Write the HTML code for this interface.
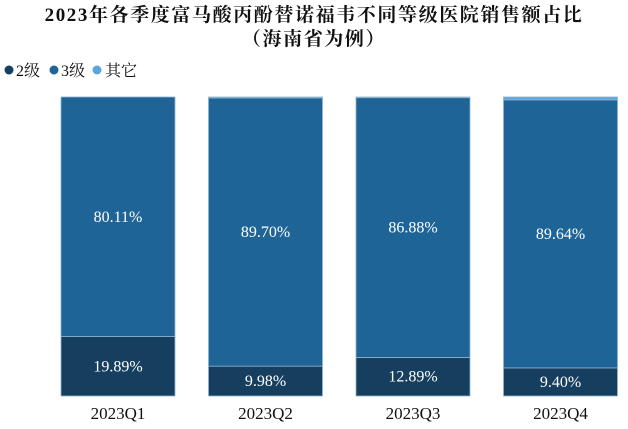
<!DOCTYPE html>
<html><head><meta charset="utf-8"><style>
body{margin:0;background:#fff;}
svg{display:block;font-family:"Liberation Serif","Noto Serif CJK SC",serif;}
</style></head><body>
<svg id="c" width="628" height="429">
<text x="314" y="21" text-anchor="middle" font-size="19" letter-spacing="1.6" font-weight="bold" fill="#111">2023年各季度富马酸丙酚替诺福韦不同等级医院销售额占比</text>
<text x="314" y="45" text-anchor="middle" font-size="19" letter-spacing="1.6" font-weight="bold" fill="#111">（海南省为例）</text>
<g>
<circle cx="9" cy="70" r="4.5" fill="#163f5f"/>
<text x="16" y="76" font-size="16" fill="#111">2级</text>
<circle cx="54" cy="70" r="4.5" fill="#1f6496"/>
<text x="61" y="76" font-size="16" fill="#111">3级</text>
<circle cx="97" cy="70" r="4.5" fill="#5aa6dc"/>
<text x="105" y="76" font-size="16" fill="#111">其它</text>
</g>
<g id="bars"></g>
</svg>
<script>
const categories=["2023Q1","2023Q2","2023Q3","2023Q4"];
const level2=[19.89,9.98,12.89,9.40];
const level3=[80.11,89.70,86.88,89.64];
const other=[0.00,0.32,0.23,0.96];
const yTop=97,yBot=396,x0=61,step=147.5,bw=114;
const y=v=>yBot-(v/100)*(yBot-yTop);
const g=document.getElementById('bars');
const NS="http://www.w3.org/2000/svg";
function rect(x,y1,y2,fill,name){
 const r=document.createElementNS(NS,'rect');
 r.setAttribute('x',x);r.setAttribute('y',y2);r.setAttribute('width',bw);r.setAttribute('height',Math.max(0,y1-y2));
 r.setAttribute('fill',fill);r.setAttribute('stroke','#8fb4d0');r.setAttribute('stroke-width','0.8');
 
 
 g.appendChild(r);
}
function txt(x,yy,s,fill,size,name){
 const t=document.createElementNS(NS,'text');
 t.setAttribute('x',x);t.setAttribute('y',yy);t.setAttribute('text-anchor','middle');
 t.setAttribute('font-size',size);t.setAttribute('fill',fill);t.textContent=s;
 
 
 g.appendChild(t);
}
categories.forEach((c,i)=>{
 const x=x0+i*step, cx=x+bw/2;
 const a=level2[i], b=a+level3[i], t=b+other[i];
 rect(x,y(0),y(a),'#163f5f','bar-level2-'+c);
 rect(x,y(a),y(b),'#1f6496','bar-level3-'+c);
 if(other[i]>0) rect(x,y(b),y(t),'#5aa6dc','bar-other-'+c);
 txt(cx,(y(0)+y(a))/2+5,level2[i].toFixed(2)+'%','#fff',16,'label-level2-'+c);
 txt(cx,(y(a)+y(b))/2+5,level3[i].toFixed(2)+'%','#fff',16,'label-level3-'+c);
 txt(cx,419,c,'#111',17,'x-label-'+c);
});
</script>
</body></html>
